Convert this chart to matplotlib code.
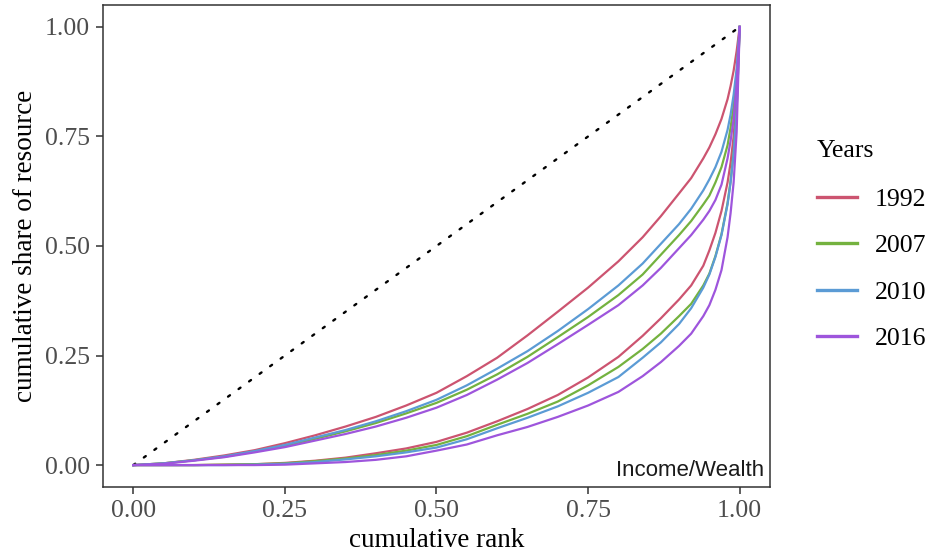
import matplotlib
matplotlib.use('Agg')
import matplotlib.pyplot as plt

# --- data ---
rank = [0, 0.05, 0.1, 0.15, 0.2, 0.25, 0.3, 0.35, 0.4, 0.45, 0.5, 0.55, 0.6, 0.65, 0.7,
        0.75, 0.8, 0.84, 0.87, 0.9, 0.92, 0.94, 0.95, 0.96, 0.97, 0.98, 0.985, 0.99, 0.995, 1.0]

years = ['1992', '2007', '2010', '2016']

income_1992 = [0, 0.004, 0.012, 0.022, 0.034, 0.050, 0.068, 0.088, 0.110, 0.136, 0.165, 0.203, 0.245, 0.296, 0.350,
               0.405, 0.465, 0.520, 0.568, 0.620, 0.655, 0.700, 0.725, 0.755, 0.790, 0.835, 0.865, 0.900, 0.945, 1.0]
income_2007 = [0, 0.004, 0.011, 0.019, 0.031, 0.044, 0.060, 0.077, 0.096, 0.118, 0.142, 0.172, 0.207, 0.247, 0.292,
               0.338, 0.388, 0.435, 0.480, 0.525, 0.557, 0.595, 0.615, 0.645, 0.680, 0.730, 0.770, 0.820, 0.890, 1.0]
income_2010 = [0, 0.004, 0.011, 0.020, 0.032, 0.046, 0.063, 0.080, 0.100, 0.123, 0.149, 0.182, 0.220, 0.260, 0.306,
               0.356, 0.410, 0.460, 0.505, 0.550, 0.585, 0.627, 0.652, 0.680, 0.715, 0.765, 0.800, 0.845, 0.905, 1.0]
income_2016 = [0, 0.003, 0.010, 0.018, 0.029, 0.041, 0.056, 0.071, 0.088, 0.108, 0.131, 0.160, 0.195, 0.233, 0.276,
               0.320, 0.365, 0.410, 0.450, 0.495, 0.525, 0.560, 0.580, 0.605, 0.640, 0.700, 0.740, 0.790, 0.870, 1.0]

wealth_1992 = [0, 0.000, 0.000, 0.001, 0.002, 0.005, 0.010, 0.017, 0.027, 0.038, 0.053, 0.074, 0.100, 0.128, 0.160,
               0.200, 0.247, 0.295, 0.335, 0.378, 0.410, 0.455, 0.490, 0.530, 0.580, 0.645, 0.690, 0.750, 0.840, 1.0]
wealth_2007 = [0, 0.000, 0.000, 0.001, 0.002, 0.004, 0.009, 0.015, 0.023, 0.033, 0.046, 0.066, 0.092, 0.117, 0.145,
               0.182, 0.224, 0.265, 0.300, 0.340, 0.368, 0.410, 0.437, 0.477, 0.527, 0.598, 0.648, 0.713, 0.812, 1.0]
wealth_2010 = [0, 0.000, 0.000, 0.000, 0.001, 0.003, 0.007, 0.013, 0.020, 0.029, 0.040, 0.059, 0.084, 0.108, 0.134,
               0.165, 0.201, 0.245, 0.280, 0.322, 0.358, 0.405, 0.435, 0.475, 0.525, 0.595, 0.645, 0.710, 0.810, 1.0]
wealth_2016 = [0, 0.000, 0.000, 0.000, 0.000, 0.001, 0.004, 0.007, 0.012, 0.020, 0.033, 0.047, 0.068, 0.087, 0.110,
               0.136, 0.167, 0.203, 0.235, 0.272, 0.300, 0.340, 0.365, 0.400, 0.445, 0.520, 0.575, 0.645, 0.760, 1.0]

income = [income_1992, income_2007, income_2010, income_2016]
wealth = [wealth_1992, wealth_2007, wealth_2010, wealth_2016]

ticks = [0, 0.25, 0.5, 0.75, 1.0]
tick_labels = ['0.00', '0.25', '0.50', '0.75', '1.00']

# --- style ---
COLORS = ['#cc5470', '#74b23f', '#5b9bd5', '#9e55dc']
SERIF = ['Liberation Serif', 'DejaVu Serif']
GRAY = '#4d4d4d'

plt.rcParams['font.family'] = SERIF

fig = plt.figure(figsize=(9.32, 5.54), dpi=100)
ax = fig.add_axes([103/932, 67/554, 667/932, 482/554])

# equality line
ax.plot([0, 1], [0, 1], color='black', linestyle=(0, (1, 4.5)), linewidth=1.7,
        dash_capstyle='round', zorder=2)

for yr, col, inc, wel in zip(years, COLORS, income, wealth):
    ax.plot(rank, inc, color=col, linewidth=1.6, label=yr, solid_joinstyle='round', zorder=3)
    ax.plot(rank, wel, color=col, linewidth=1.6, solid_joinstyle='round', zorder=3)

ax.set_xlim(-0.05, 1.05)
ax.set_ylim(-0.05, 1.05)
ax.set_xticks(ticks)
ax.set_xticklabels(tick_labels)
ax.set_yticks(ticks)
ax.set_yticklabels(tick_labels)
ax.tick_params(direction='out', length=5, width=1.1, color='#333333',
               labelsize=18.5, labelcolor=GRAY, pad=4.5)
for sp in ax.spines.values():
    sp.set_color('#333333')
    sp.set_linewidth(1.1)

ax.set_xlabel('cumulative rank', fontsize=19.5, labelpad=4)
ax.set_ylabel('cumulative share of resource', fontsize=19.5, labelpad=5)

ax.text(1.04, -0.012, 'Income/Wealth', ha='right', va='center', fontsize=16,
        family=['Liberation Sans', 'DejaVu Sans'], color='#1a1a1a')

leg = fig.legend(loc='upper left', bbox_to_anchor=(817/932, 1 - 140/554), title='Years',
                 frameon=False, fontsize=18.5, title_fontsize=18.5, handlelength=1.55,
                 labelspacing=0.9, handletextpad=0.7, borderaxespad=0, borderpad=0)
leg._legend_box.align = 'left'
leg._legend_box.sep = 19
for h in leg.legend_handles:
    h.set_linewidth(2.4)

fig.savefig('out.png', dpi=100, facecolor='white')
plt.close(fig)
